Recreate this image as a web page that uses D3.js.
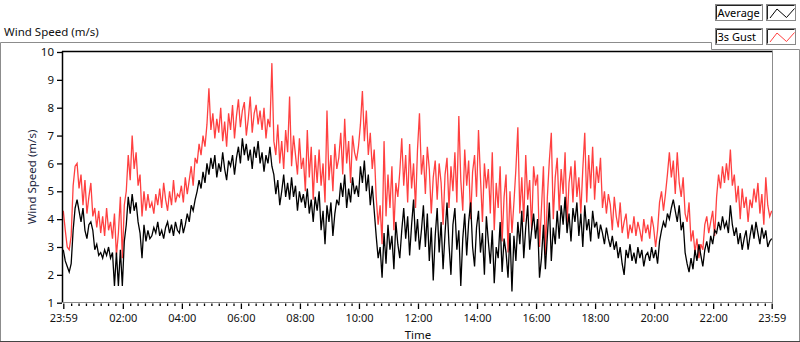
<!DOCTYPE html>
<html>
<head>
<meta charset="utf-8">
<script src="https://cdn.jsdelivr.net/npm/d3@7"></script>
<style>
body { margin: 0; background: #fff; }
text { font-family: "Noto Sans", sans-serif; }
</style>
</head>
<body>
<svg id="chart" width="800" height="342"></svg>
<script>
// one sample every 4 minutes, starting 23:59
var sampleMinutes = 4;

var avgSpeed = [
2.9,2.5,2.3,2.1,2.4,3.6,4.4,4.7,4.3,3.9,
4.4,3.6,3.3,3.8,3.9,3.6,2.9,3.1,2.7,2.8,
2.6,2.9,2.7,3.0,2.6,2.8,1.6,2.8,1.6,2.9,
1.6,3.2,3.8,4.8,4.2,4.9,4.3,4.6,3.9,3.5,
2.6,3.8,3.2,3.6,3.3,3.4,3.7,3.5,3.9,3.4,
3.6,3.3,3.7,3.9,3.5,3.8,3.4,3.9,3.6,3.5,
4.0,3.5,3.8,4.2,3.9,4.5,4.3,4.7,5.0,5.4,
5.1,5.7,5.3,6.0,5.6,6.2,5.8,6.3,5.5,6.0,
5.7,6.4,5.8,5.4,6.1,5.9,6.3,5.6,6.2,6.6,
6.0,6.9,6.3,6.7,6.1,6.5,5.8,6.6,6.2,6.8,
6.0,6.4,5.7,6.3,6.0,6.6,5.9,5.6,4.9,5.4,
4.5,5.0,5.6,4.8,5.3,4.7,5.5,4.8,5.2,4.3,
5.0,4.6,4.9,4.4,5.1,4.2,4.7,3.9,4.8,4.3,
5.0,3.6,4.3,3.1,4.5,3.9,4.6,3.4,4.2,4.7,
4.5,5.3,4.8,5.6,4.4,5.1,4.6,5.5,4.9,5.2,
4.8,5.9,5.3,6.1,5.0,5.6,4.5,5.2,4.3,3.4,
2.6,3.0,1.9,3.5,2.4,3.8,2.9,3.4,2.2,3.9,
3.1,2.6,3.6,4.4,3.3,4.1,2.7,3.8,4.7,3.2,
4.0,2.9,3.6,4.5,3.0,4.2,2.5,3.7,1.8,3.4,
4.4,2.8,3.9,2.2,3.5,4.6,3.1,2.0,3.8,4.4,
2.9,3.6,1.6,3.3,4.2,2.7,3.9,4.6,3.0,2.3,
3.7,4.3,2.8,3.5,2.0,4.1,3.2,2.4,3.6,1.7,
3.0,2.6,3.9,2.1,3.3,2.8,1.9,3.5,1.4,3.4,
2.5,3.9,3.1,4.3,2.6,3.7,4.5,2.9,3.6,4.2,
3.3,4.0,1.9,2.6,3.8,2.2,3.4,4.6,2.5,3.7,
3.1,4.3,3.3,4.5,3.8,4.8,3.5,4.2,3.2,4.4,
3.9,4.6,3.4,4.2,3.0,4.5,3.6,4.0,3.2,4.3,
3.7,3.9,3.3,3.8,3.5,3.1,3.7,3.3,3.0,3.4,
2.9,3.2,2.6,3.0,2.4,2.0,2.9,2.6,3.1,2.5,
2.8,2.4,3.0,2.6,2.9,2.3,2.7,2.8,2.5,3.0,
2.6,2.9,2.4,3.2,3.6,3.9,3.7,4.2,4.0,4.4,
4.7,4.3,3.9,4.5,3.6,3.9,2.8,2.4,2.1,2.6,
2.2,2.9,2.5,3.1,2.7,2.3,2.9,3.2,2.8,3.4,
3.1,3.6,3.5,3.9,3.6,4.1,3.7,3.9,3.5,4.5,
3.8,3.4,3.7,3.1,3.5,2.9,3.3,3.6,2.9,3.4,
3.8,3.3,3.9,3.5,3.1,3.7,3.3,3.6,3.0,3.2,
3.3];

var gustSpeed = [
4.3,3.6,3.0,2.9,3.4,5.2,5.9,6.0,5.1,5.6,
4.5,5.4,4.2,4.8,5.3,4.1,4.4,3.7,4.3,3.5,
4.1,3.4,4.4,3.6,3.9,3.3,4.2,2.7,3.5,4.8,
2.6,4.5,5.0,6.3,5.4,7.0,5.8,6.4,5.2,5.6,
4.1,5.0,4.3,4.9,4.4,4.6,4.2,4.9,4.5,5.1,
4.4,5.3,4.7,4.3,5.0,4.5,5.4,4.6,4.9,4.8,
5.2,4.6,5.5,4.9,5.4,5.9,5.2,6.2,6.0,6.7,
6.3,7.0,6.6,7.4,8.7,7.2,7.8,6.9,7.6,7.1,
8.0,6.8,7.5,6.6,7.8,7.2,8.1,6.9,7.7,8.3,
7.3,7.9,8.2,7.0,7.6,8.4,7.1,7.8,8.1,7.4,
7.9,7.2,8.0,6.9,7.6,7.3,9.6,6.8,6.3,7.4,
6.0,6.8,5.8,7.2,6.4,8.4,5.9,7.0,6.3,5.6,
6.9,5.8,6.2,5.0,7.2,5.5,6.6,4.7,6.3,5.3,
6.5,5.2,6.0,4.6,7.9,5.4,6.3,5.0,6.7,5.8,
6.2,7.1,5.6,7.6,6.0,6.8,5.3,7.0,6.4,6.1,
6.6,7.4,8.6,6.8,7.9,6.3,7.1,5.8,6.5,4.8,
3.8,4.5,3.1,6.8,4.1,5.6,4.4,5.9,3.6,5.3,
4.8,5.7,6.9,5.2,6.3,4.6,6.7,5.1,6.0,4.4,
6.5,7.8,5.6,6.3,4.9,6.6,5.8,4.2,5.5,6.1,
4.7,6.0,5.3,3.8,5.6,6.2,4.4,5.9,5.0,6.4,
4.6,7.7,5.4,4.3,6.5,5.2,6.1,4.0,5.7,6.3,
4.8,7.2,5.5,3.9,6.0,5.1,5.8,4.2,6.4,3.6,
5.3,4.4,5.9,3.2,4.8,5.6,2.8,5.0,3.5,4.6,
5.8,7.3,4.2,5.5,3.9,6.3,4.7,5.4,3.6,5.9,
5.2,5.6,3.0,4.4,5.9,2.7,4.8,6.1,7.1,4.0,
5.5,6.2,4.3,5.8,4.9,6.4,3.8,5.3,5.9,4.6,
6.1,4.8,5.5,4.2,5.8,7.1,4.6,6.3,5.1,6.6,
4.7,5.9,5.3,6.2,4.4,5.0,4.2,4.9,4.5,3.6,
4.8,4.1,3.7,4.6,3.5,3.9,4.2,3.3,3.8,3.5,
4.1,3.4,3.9,3.6,3.2,4.0,3.5,3.8,3.3,4.1,
3.7,3.0,3.6,4.6,5.0,4.3,4.9,5.6,6.4,5.5,
6.1,4.9,6.4,5.3,4.8,5.5,4.2,3.9,4.6,3.2,
3.6,2.8,3.3,2.6,3.1,2.9,3.8,4.1,3.5,3.9,
4.3,3.4,4.8,5.6,5.1,5.9,5.3,6.0,5.4,6.5,
5.2,5.6,4.6,5.2,4.0,5.1,4.4,4.8,3.9,4.7,
4.4,5.1,4.6,5.3,4.2,4.9,3.8,5.5,4.5,4.1,
4.3];

var timeTicks = ["23:59","02:00","04:00","06:00","08:00","10:00","12:00","14:00","16:00","18:00","20:00","22:00","23:59"];
var speedTicks = [1,2,3,4,5,6,7,8,9,10];
var seriesNames = ["Average","3s Gust"];
var seriesColors = ["#000000","#ff4040"];

var svg = d3.select("#chart");

var t0 = new Date(2020, 0, 1, 23, 59);
function atMinute(m) { return new Date(t0.getTime() + m * 60000); }

var x = d3.scaleTime().domain([t0, atMinute(1440)]).range([63.3, 771.7]);
var y = d3.scaleLinear().domain([1, 10]).range([302.7, 52]);

// outer frame
svg.append("path")
  .attr("d", "M0.5,342V42.5H711.5V49.5H799.5V342")
  .attr("fill", "none").attr("stroke", "#8c8c8c");
svg.append("line").attr("x1", 0).attr("x2", 800).attr("y1", 341.5).attr("y2", 341.5)
  .attr("stroke", "#444");

svg.append("text").attr("x", 4).attr("y", 36).text("Wind Speed (m/s)")
  .style("font-size", "11.5px").attr("fill", "#111");

// plot area
svg.append("defs").append("clipPath").attr("id", "plotclip")
  .append("rect").attr("x", 63).attr("y", 52).attr("width", 709).attr("height", 250);

var lineGen = d3.line()
  .x(function(d, i) { return x(atMinute(i * sampleMinutes)); })
  .y(function(d) { return y(d); });

var plot = svg.append("g").attr("clip-path", "url(#plotclip)");
plot.append("path").datum(gustSpeed)
  .attr("d", lineGen).attr("fill", "none")
  .attr("stroke", seriesColors[1]).attr("stroke-width", 1.3);
plot.append("path").datum(avgSpeed)
  .attr("d", lineGen).attr("fill", "none")
  .attr("stroke", seriesColors[0]).attr("stroke-width", 1.3);

// plot frame
svg.append("line").attr("x1", 62).attr("x2", 773).attr("y1", 51.5).attr("y2", 51.5).attr("stroke", "#000").attr("stroke-width", 1.5);
svg.append("line").attr("x1", 62.5).attr("x2", 62.5).attr("y1", 51).attr("y2", 303).attr("stroke", "#000").attr("stroke-width", 1.5);
svg.append("line").attr("x1", 772.5).attr("x2", 772.5).attr("y1", 51).attr("y2", 303).attr("stroke", "#8c8c8c");
svg.append("line").attr("x1", 62).attr("x2", 773).attr("y1", 302.5).attr("y2", 302.5).attr("stroke", "#8c8c8c");

// x axis
var majorDates = timeTicks.map(function(s, i) {
  if (i == 0) return t0;
  var p = s.split(":");
  return atMinute(1 + (+p[0]) * 60 + (+p[1]));
});
var minorDates = [];
for (var k = 1; k < 96; k++) {
  if (k % 8 != 0) minorDates.push(atMinute(1 + k * 15));
}

var xMinor = svg.append("g").attr("transform", "translate(0,303.5)")
  .call(d3.axisBottom(x).tickValues(minorDates).tickSize(2.5).tickFormat(""));
var xMajor = svg.append("g").attr("transform", "translate(0,303.5)")
  .call(d3.axisBottom(x).tickValues(majorDates).tickSize(5.5).tickPadding(5)
    .tickFormat(function(d, i) { return timeTicks[i]; }));
[xMinor, xMajor].forEach(function(g) {
  g.select(".domain").remove();
  g.selectAll("line").attr("stroke", "#000").attr("stroke-width", 1.3);
  g.selectAll("text").style("font-size", "11px").style("font-family", "\"Noto Sans\", sans-serif").attr("fill", "#111");
});

svg.append("text").attr("x", 418).attr("y", 339).attr("text-anchor", "middle")
  .text("Time").style("font-size", "11.5px").attr("fill", "#111");

// y axis
var yAxis = svg.append("g").attr("transform", "translate(62,0)")
  .call(d3.axisLeft(y).tickValues(speedTicks).tickSize(5).tickPadding(3));
yAxis.select(".domain").remove();
yAxis.selectAll("line").attr("stroke", "#000").attr("stroke-width", 1.3);
yAxis.selectAll("text").style("font-size", "11.5px").style("font-family", "\"Noto Sans\", sans-serif").attr("fill", "#111");

svg.append("text").attr("transform", "translate(36,177) rotate(-90)")
  .attr("text-anchor", "middle").text("Wind Speed (m/s)")
  .style("font-size", "11.5px").attr("fill", "#1a2540");

// legend
var iconPoints = [[3.5, 13.5], [10.5, 4.5], [20, 13], [28, 4]];
seriesNames.forEach(function(name, i) {
  var top = 4.5 + i * 24;
  var lg = svg.append("g");
  lg.append("rect").attr("x", 715.5).attr("y", top).attr("width", 47).attr("height", 16)
    .attr("fill", "#fff").attr("stroke", "#888");
  lg.append("path").attr("d", "M716.5," + (top + 15) + "V" + (top + 1) + "H761.5")
    .attr("fill", "none").attr("stroke", "#222");
  lg.append("text").attr("x", 717.5).attr("y", top + 12.5).text(name)
    .style("font-size", "11px").attr("fill", "#000");
  lg.append("rect").attr("x", 766.5).attr("y", top).attr("width", 29).attr("height", 16)
    .attr("fill", "#fff").attr("stroke", "#888");
  lg.append("path").attr("d", "M767.5," + (top + 15) + "V" + (top + 1) + "H794.5")
    .attr("fill", "none").attr("stroke", "#222");
  lg.append("path")
    .attr("d", d3.line()(iconPoints.map(function(p) { return [766.5 + p[0], top + p[1]]; })))
    .attr("fill", "none").attr("stroke", seriesColors[i]);
});
</script>
</body>
</html>
